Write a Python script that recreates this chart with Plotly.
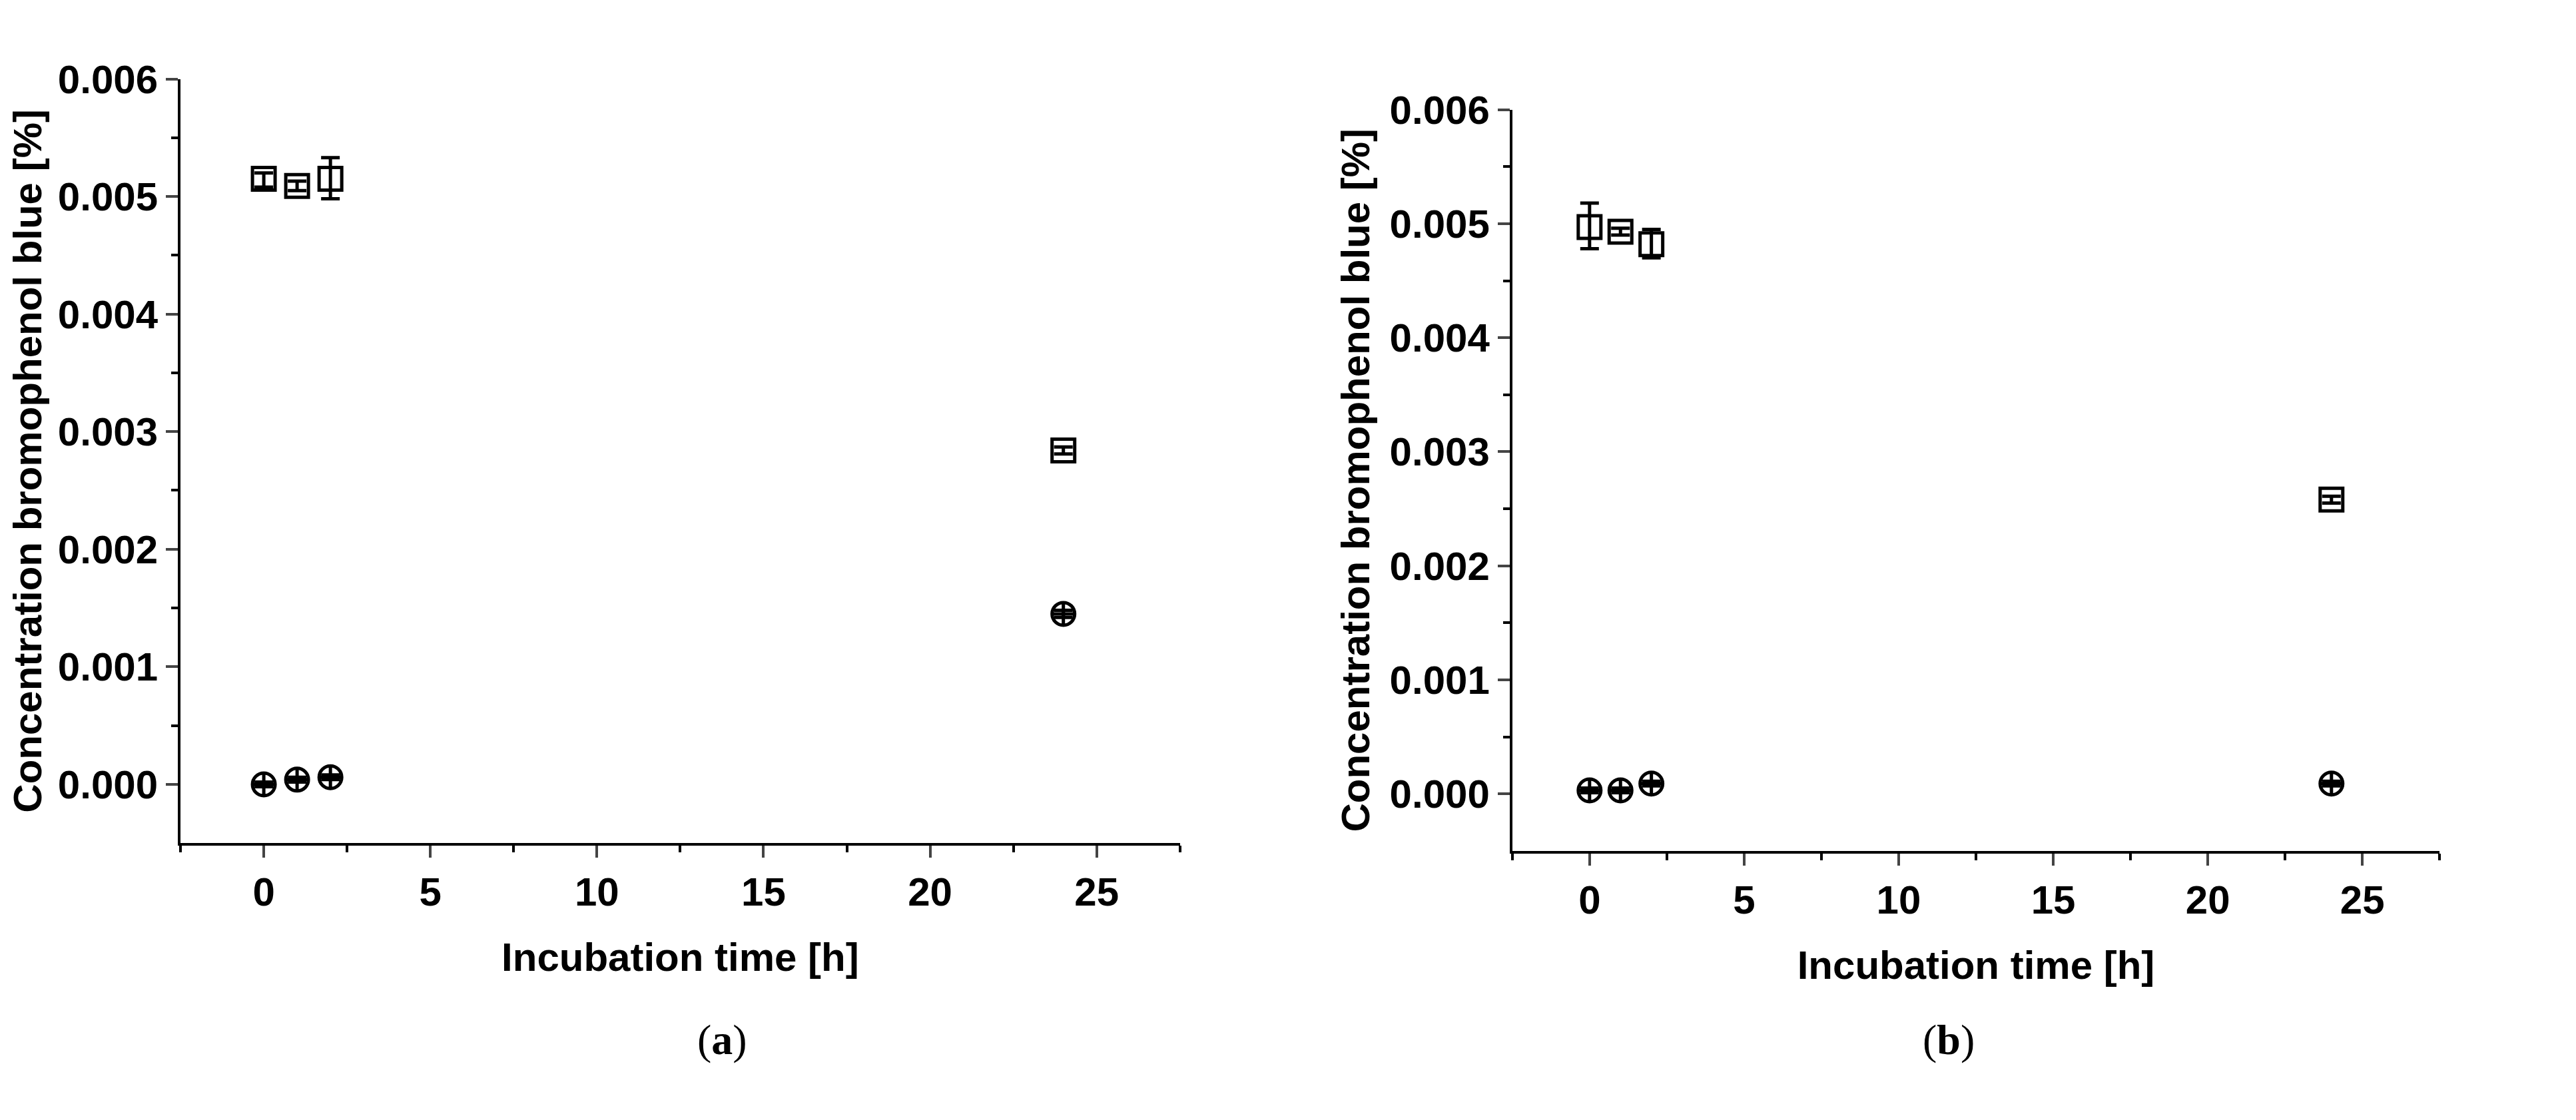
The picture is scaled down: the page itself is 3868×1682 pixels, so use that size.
import plotly.graph_objects as go

time_h = [0, 1, 2, 24]
a_sq = [0.00515, 0.00509, 0.00515, 0.00284]
a_sq_hi = [0.00005, 0.00004, 0.00018, 0.00003]
a_sq_lo = [0.00007, 0.00004, 0.00017, 0.00003]
a_ci = [0.0, 0.00004, 0.00006, 0.00145]
a_ci_err = [0.00002, 0.00002, 0.00002, 0.00003]
b_sq = [0.00497, 0.00493, 0.00482, 0.00258]
b_sq_hi = [0.00021, 0.00003, 0.00013, 0.00003]
b_sq_lo = [0.00019, 0.00003, 0.00012, 0.00003]
b_ci = [0.00003, 0.00003, 0.00009, 0.00009]
b_ci_err = [0.00002, 0.00002, 0.00002, 0.00002]

FONT = "Liberation Sans"
fig = go.Figure()

def add(x, y, hi, lo, sym, xa, ya):
    fig.add_trace(go.Scatter(
        x=x, y=y, mode="markers", xaxis=xa, yaxis=ya, showlegend=False,
        marker=dict(symbol=sym, size=34, color="black", line=dict(width=5, color="black")),
        error_y=dict(type="data", array=hi, arrayminus=lo, color="black", thickness=5, width=14)))

add(time_h, a_sq, a_sq_hi, a_sq_lo, "square-open", "x", "y")
add(time_h, a_ci, a_ci_err, a_ci_err, "circle-cross-open", "x", "y")
add(time_h, b_sq, b_sq_hi, b_sq_lo, "square-open", "x2", "y2")
add(time_h, b_ci, b_ci_err, b_ci_err, "circle-cross-open", "x2", "y2")

tickfont = dict(family=FONT, size=60, color="black", weight="bold")
titlefont = dict(family=FONT, size=60, color="black", weight="bold")
xcommon = dict(range=[-2.5, 27.5], tickvals=[0, 5, 10, 15, 20, 25], ticks="outside", ticklen=18,
               tickwidth=4, showline=True, linewidth=4, linecolor="black", showgrid=False,
               zeroline=False, tickfont=tickfont,
               minor=dict(tickvals=[-2.5, 2.5, 7.5, 12.5, 17.5, 22.5, 27.5], ticks="outside", ticklen=10, tickwidth=4, tickcolor="black"),
               title=dict(text="Incubation time [h]", font=titlefont, standoff=45))
ycommon = dict(range=[-0.0005, 0.006], tickvals=[0, 0.001, 0.002, 0.003, 0.004, 0.005, 0.006],
               tickformat=".3f", ticks="outside", ticklen=18, tickwidth=4, showline=True,
               linewidth=4, linecolor="black", showgrid=False, zeroline=False,
               tickfont=tickfont,
               minor=dict(tickvals=[0.0005, 0.0015, 0.0025, 0.0035, 0.0045, 0.0055], ticks="outside", ticklen=10, tickwidth=4, tickcolor="black"),
               title=dict(text="Concentration bromophenol blue [%]", font=titlefont, standoff=12))

fig.update_layout(
    width=3868, height=1682, paper_bgcolor="white", plot_bgcolor="white",
    margin=dict(l=0, r=0, t=0, b=0),
    xaxis=dict(domain=[0.068, 0.456], anchor="y", **xcommon),
    yaxis=dict(domain=[0.257, 0.953], anchor="x", **ycommon),
    xaxis2=dict(domain=[0.585, 0.945], anchor="y2", **xcommon),
    yaxis2=dict(domain=[0.25, 0.925], anchor="x2", **ycommon),
    annotations=[
        dict(text="(<b>a</b>)", x=0.268, y=0.055, xref="paper", yref="paper", showarrow=False,
             font=dict(family="Liberation Serif", size=64, color="black")),
        dict(text="(<b>b</b>)", x=0.765, y=0.055, xref="paper", yref="paper", showarrow=False,
             font=dict(family="Liberation Serif", size=64, color="black")),
    ],
)
fig.for_each_trace(lambda t: t.update(cliponaxis=False))
fig.update_traces(hoverinfo="skip")
fig.write_html("out.html")
